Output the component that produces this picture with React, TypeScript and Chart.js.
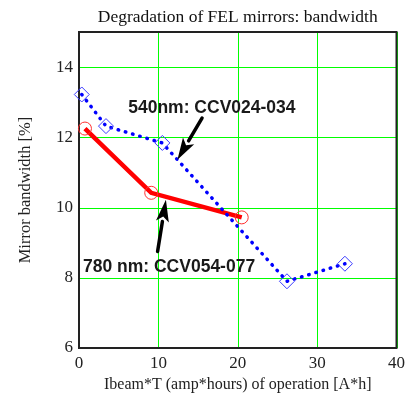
import React, { useEffect, useRef } from 'react';
import { Chart, registerables } from 'chart.js';

Chart.register(...registerables);

// ---- data ----
const blueX = [0.35, 3.4, 10.5, 26.2, 33.5];
const blueY = [13.22, 12.32, 11.84, 7.9, 8.4];
const redX = [0.75, 9.1, 20.5];
const redY = [12.25, 10.42, 9.72];
const xMin = 0;
const xMax = 40;
const xStep = 10;
const yMin = 6;
const yMax = 15;
const yStep = 2;
const titleText = 'Degradation of FEL mirrors: bandwidth';
const xTitleText = 'Ibeam*T (amp*hours) of operation [A*h]';
const yTitleText = 'Mirror bandwidth [%]';
const noteTexts = ['540nm: CCV024-034', '780 nm: CCV054-077'];
const noteX = [6.2, 0.5];
const noteY = [12.83, 8.31];
const arrowFromX = [15.5, 9.9];
const arrowFromY = [12.55, 8.75];
const arrowToX = [12.4, 10.95];
const arrowToY = [11.36, 10.22];

const SERIF = "'Liberation Serif', 'Times New Roman', serif";
const SANS = "'Liberation Sans', Arial, sans-serif";
const GRID = '#00ff00';

const bgPlugin = {
  id: 'bg',
  beforeDraw(chart: any) {
    const { ctx, width, height } = chart;
    ctx.save();
    ctx.fillStyle = '#ffffff';
    ctx.fillRect(0, 0, width, height);
    ctx.restore();
  },
};

// green grid through the chart's own scales + black frame
const gridFramePlugin = {
  id: 'gridframe',
  beforeDatasetsDraw(chart: any) {
    const { ctx, chartArea: a } = chart;
    const xs = chart.scales.x;
    const ys = chart.scales.y;
    ctx.save();
    ctx.strokeStyle = GRID;
    ctx.lineWidth = 1;
    ctx.beginPath();
    for (const t of xs.ticks) {
      const px = Math.round(xs.getPixelForValue(t.value)) + 0.5;
      ctx.moveTo(px, a.top);
      ctx.lineTo(px, a.bottom);
    }
    for (const t of ys.ticks) {
      const py = Math.round(ys.getPixelForValue(t.value)) + 0.5;
      ctx.moveTo(a.left, py);
      ctx.lineTo(a.right, py);
    }
    ctx.stroke();
    ctx.strokeStyle = '#222222';
    ctx.lineWidth = 2;
    ctx.strokeRect(a.left, a.top, a.right - a.left, a.bottom - a.top);
    ctx.restore();
  },
};

const notesPlugin = {
  id: 'notes',
  afterDatasetsDraw(chart: any) {
    const { ctx } = chart;
    const xs = chart.scales.x;
    const ys = chart.scales.y;
    ctx.save();
    for (let i = 0; i < noteTexts.length; i++) {
      const x1 = xs.getPixelForValue(arrowFromX[i]);
      const y1 = ys.getPixelForValue(arrowFromY[i]);
      const x2 = xs.getPixelForValue(arrowToX[i]);
      const y2 = ys.getPixelForValue(arrowToY[i]);
      const ang = Math.atan2(y2 - y1, x2 - x1);
      const headLen = 22;
      const headHalf = 6.5;
      const bx = x2 - headLen * Math.cos(ang);
      const by = y2 - headLen * Math.sin(ang);
      ctx.strokeStyle = '#000';
      ctx.fillStyle = '#000';
      ctx.lineWidth = 3.5;
      ctx.lineCap = 'round';
      ctx.beginPath();
      ctx.moveTo(x1, y1);
      ctx.lineTo(bx, by);
      ctx.stroke();
      ctx.beginPath();
      ctx.moveTo(x2, y2);
      ctx.lineTo(bx + headHalf * Math.sin(ang), by - headHalf * Math.cos(ang));
      ctx.lineTo(bx + 5 * Math.cos(ang), by + 5 * Math.sin(ang));
      ctx.lineTo(bx - headHalf * Math.sin(ang), by + headHalf * Math.cos(ang));
      ctx.closePath();
      ctx.fill();
      ctx.font = `bold 17.5px ${SANS}`;
      ctx.textAlign = 'left';
      ctx.textBaseline = 'middle';
      ctx.fillStyle = '#1a1a1a';
      ctx.fillText(noteTexts[i], xs.getPixelForValue(noteX[i]), ys.getPixelForValue(noteY[i]));
    }
    ctx.restore();
  },
};

export default function App() {
  const ref = useRef<HTMLCanvasElement>(null);
  useEffect(() => {
    if (!ref.current) return;
    const chart = new Chart(ref.current, {
      type: 'line',
      data: {
        datasets: [
          {
            label: '540nm',
            data: blueX.map((x, i) => ({ x, y: blueY[i] })),
            borderColor: '#0000ff',
            borderWidth: 3.5,
            borderDash: [0.5, 7],
            borderCapStyle: 'round',
            pointStyle: 'rectRot',
            pointRadius: 7.5,
            pointBorderColor: '#3b3bff',
            pointBackgroundColor: 'rgba(0,0,0,0)',
            pointBorderWidth: 1,
            tension: 0,
            fill: false,
            clip: false,
          } as any,
          {
            label: '780nm',
            data: redX.map((x, i) => ({ x, y: redY[i] })),
            borderColor: '#ff0000',
            borderWidth: 4.5,
            pointStyle: 'circle',
            pointRadius: 6.5,
            pointBorderColor: '#ff3030',
            pointBackgroundColor: 'rgba(0,0,0,0)',
            pointBorderWidth: 1,
            tension: 0,
            fill: false,
            clip: false,
          } as any,
        ],
      },
      options: {
        responsive: false,
        animation: false,
        events: [],
        layout: { padding: { left: 0, right: 11, top: 0, bottom: 0 } },
        plugins: {
          legend: { display: false },
          tooltip: { enabled: false },
          title: {
            display: true,
            text: titleText,
            fullSize: false,
            color: '#111',
            font: { family: SERIF, size: 17.5, weight: 'normal' },
            padding: { top: 7, bottom: 4 },
          },
        },
        scales: {
          x: {
            type: 'linear',
            min: xMin,
            max: xMax,
            afterFit: (s: any) => {
              s.height = 49;
            },
            border: { display: false },
            grid: { display: false, drawTicks: false },
            ticks: {
              stepSize: xStep,
              color: '#222',
              font: { family: SERIF, size: 17 },
              padding: 5,
              maxRotation: 0,
              autoSkip: false,
            },
            title: {
              display: true,
              text: xTitleText,
              color: '#222',
              font: { family: SERIF, size: 16 },
              padding: { top: 0, bottom: 3 },
            },
          },
          y: {
            type: 'linear',
            min: yMin,
            max: yMax,
            afterFit: (s: any) => {
              s.width = 79;
            },
            border: { display: false },
            grid: { display: false, drawTicks: false },
            ticks: {
              stepSize: yStep,
              includeBounds: false,
              color: '#222',
              font: { family: SERIF, size: 17 },
              padding: 6,
              autoSkip: false,
            },
            title: {
              display: true,
              text: yTitleText,
              color: '#222',
              font: { family: SERIF, size: 16.5 },
              padding: { top: 16, bottom: 0 },
            },
          },
        },
      } as any,
      plugins: [bgPlugin, gridFramePlugin, notesPlugin],
    });
    return () => chart.destroy();
  }, []);
  return (
    <div style={{ position: 'absolute', left: 0, top: 0, width: 410, height: 397 }}>
      <canvas ref={ref} width={410} height={397} style={{ display: 'block' }} />
    </div>
  );
}
